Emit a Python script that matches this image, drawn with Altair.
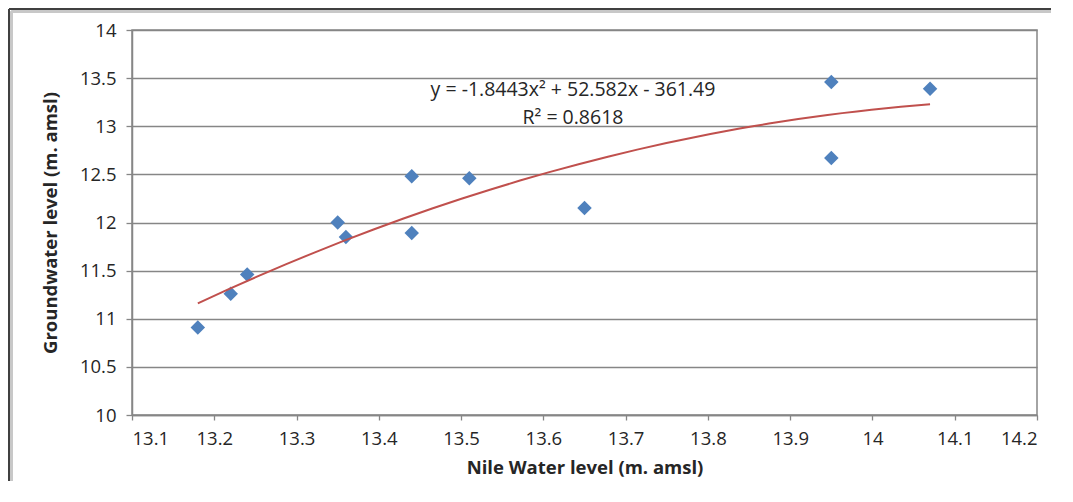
import altair as alt
import pandas as pd

nile_level = [13.18, 13.22, 13.24, 13.35, 13.36, 13.44, 13.44, 13.51, 13.65, 13.95, 13.95, 14.07]
groundwater = [10.91, 11.26, 11.46, 12.00, 11.85, 12.48, 11.89, 12.46, 12.15, 13.46, 12.67, 13.39]

x_ticks = [13.1, 13.2, 13.3, 13.4, 13.5, 13.6, 13.7, 13.8, 13.9, 14.0, 14.1, 14.2]
y_ticks = [10, 10.5, 11, 11.5, 12, 12.5, 13, 13.5, 14]

eq_labels = ["y = -1.8443x² + 52.582x - 361.49", "R² = 0.8618"]
eq_x = [13.636, 13.636]
eq_y = [13.375, 13.09]

df = pd.DataFrame({"x": nile_level, "y": groundwater})
lab = pd.DataFrame({"x": eq_x, "y": eq_y, "t": eq_labels})

FONT = "Open Sans"
FS = 18.5
W, H = 905, 385

xscale = alt.Scale(domain=[13.1, 14.2], nice=False, zero=False)
yscale = alt.Scale(domain=[10, 14], nice=False, zero=False)

xaxis = alt.Axis(values=x_ticks, format=".1~f", title="Nile Water level (m. amsl)",
                 grid=False, tickSize=5, labelPadding=9, titlePadding=11)
yaxis = alt.Axis(values=y_ticks, format="~g", title="Groundwater level (m. amsl)",
                 grid=True, tickSize=6, labelPadding=10, titlePadding=19)

base = alt.Chart(df)

# chart frame: only its top and left edges fall inside the window
frame_top = alt.Chart(df).mark_rule(stroke="#404040", strokeWidth=2, clip=False).encode(
    x=alt.value(-123), x2=alt.value(W + 300), y=alt.value(-21)
)
frame_left = alt.Chart(df).mark_rule(stroke="#404040", strokeWidth=2, clip=False).encode(
    x=alt.value(-123), y=alt.value(-21), y2=alt.value(H + 300)
)
frame_top_in = alt.Chart(df).mark_rule(stroke="#C8C8C8", strokeWidth=1.5, clip=False).encode(
    x=alt.value(-120.5), x2=alt.value(W + 300), y=alt.value(-18.5)
)
frame_left_in = alt.Chart(df).mark_rule(stroke="#C8C8C8", strokeWidth=1.5, clip=False).encode(
    x=alt.value(-120.5), y=alt.value(-18.5), y2=alt.value(H + 300)
)

points = base.mark_point(shape="diamond", filled=True, size=210, color="#4F81BD", opacity=1).encode(
    x=alt.X("x:Q", scale=xscale, axis=xaxis),
    y=alt.Y("y:Q", scale=yscale, axis=yaxis),
)

trend = base.transform_regression("x", "y", method="poly", order=2).mark_line(
    color="#C0504D", strokeWidth=2
).encode(x="x:Q", y="y:Q")

texts = alt.Chart(lab).mark_text(font=FONT, fontSize=19.5, color="#262626", align="center", baseline="middle").encode(
    x="x:Q", y="y:Q", text="t:N"
)

chart = alt.layer(frame_top, frame_left, frame_top_in, frame_left_in, points, trend, texts).properties(
    width=W, height=H,
    autosize=alt.AutoSizeParams(type="none"),
    padding={"left": 124, "top": 22, "right": 14, "bottom": 66},
).configure_view(
    stroke="#868686", strokeWidth=1.5
).configure_axis(
    labelFont=FONT, titleFont=FONT, labelFontSize=FS, titleFontSize=FS,
    labelColor="#262626", titleColor="#262626", titleFontWeight="bold",
    domainColor="#868686", tickColor="#868686", gridColor="#868686",
    domainWidth=1.5, gridWidth=1.3, tickWidth=1.3,
)

chart.save("out.html", embed_options={"renderer": "svg", "actions": False})
